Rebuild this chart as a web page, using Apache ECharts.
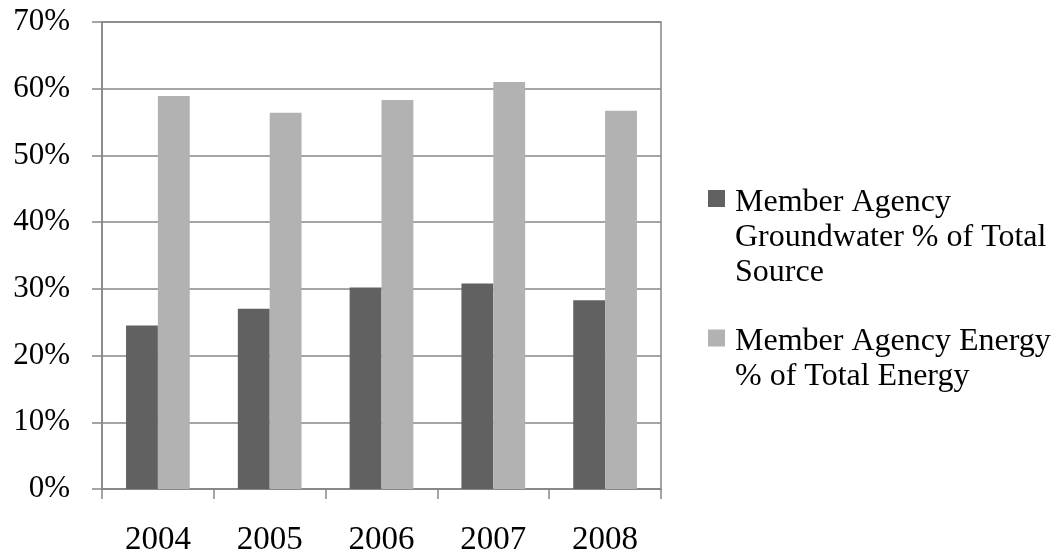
<!DOCTYPE html>
<html>
<head>
<meta charset="utf-8">
<title>Member Agency share</title>
<script src="https://cdn.jsdelivr.net/npm/echarts@6/dist/echarts.min.js"></script>
<style>
  html, body { margin: 0; padding: 0; background: #ffffff; }
  #chart { width: 1060px; height: 554px; }
</style>
</head>
<body>
<div id="chart"></div>
<script>
  // data (percent)
  var years = ['2004', '2005', '2006', '2007', '2008']
  var groundwater = [24.5, 27.0, 30.2, 30.8, 28.3]
  var energy = [58.9, 56.4, 58.3, 61.0, 56.7]
  var seriesNames = [
    'Member Agency Groundwater % of Total Source',
    'Member Agency Energy % of Total Energy'
  ]
  var legendLabels = [
    'Member Agency\nGroundwater % of Total\nSource',
    'Member Agency Energy\n% of Total Energy'
  ]
  var yTicks = [0, 10, 20, 30, 40, 50, 60, 70]

  var axisGray = '#878787'
  var font = 'Liberation Serif'

  // legend squares sit on the first text line (excel style), so the icon is a
  // 22x105 path box with a 17px square drawn at the first line's height
  var iconFirstOf3 = 'path://M0,0L22,0M0,5L17,5L17,22L0,22ZM0,105L22,105'
  var iconFirstOf2 = 'path://M0,0L22,0M0,22.5L17,22.5L17,39.5L0,39.5ZM0,105L22,105'

  var chart = echarts.init(document.getElementById('chart'))
  var option = {
    animation: false,
    backgroundColor: '#ffffff',
    grid: {
      left: 102,
      right: 399,
      top: 22,
      bottom: 65,
      outerBoundsMode: 'none',
      show: true,
      borderColor: axisGray,
      borderWidth: 1.5
    },
    legend: {
      orient: 'vertical',
      left: 708,
      top: 185,
      padding: 0,
      itemGap: 17,
      itemWidth: 22,
      itemHeight: 105,
      selectedMode: false,
      formatter: function (name) {
        return legendLabels[seriesNames.indexOf(name)]
      },
      textStyle: {
        fontFamily: font,
        fontSize: 32,
        lineHeight: 35,
        color: '#000000'
      },
      data: [
        { name: seriesNames[0], icon: iconFirstOf3 },
        { name: seriesNames[1], icon: iconFirstOf2 }
      ]
    },
    xAxis: {
      type: 'category',
      data: years,
      axisLine: { lineStyle: { color: axisGray, width: 1.5 } },
      axisTick: { show: true, length: 10, lineStyle: { color: axisGray, width: 1.5 } },
      axisLabel: { margin: 35, fontFamily: font, fontSize: 33, color: '#000000' }
    },
    yAxis: {
      type: 'value',
      min: yTicks[0],
      max: yTicks[yTicks.length - 1],
      interval: 10,
      axisLine: { show: true, lineStyle: { color: axisGray, width: 1.5 } },
      axisTick: { show: true, length: 10, lineStyle: { color: axisGray, width: 1.5 } },
      splitLine: { lineStyle: { color: axisGray, width: 1.5 } },
      axisLabel: {
        margin: 32,
        fontFamily: font,
        fontSize: 31,
        color: '#000000',
        formatter: '{value}%'
      }
    },
    series: [
      {
        name: seriesNames[0],
        type: 'bar',
        data: groundwater,
        barGap: 0,
        barCategoryGap: '43%',
        itemStyle: { color: '#616161' }
      },
      {
        name: seriesNames[1],
        type: 'bar',
        data: energy,
        barGap: 0,
        barCategoryGap: '43%',
        itemStyle: { color: '#b2b2b2' }
      }
    ]
  }
  chart.setOption(option)
</script>
</body>
</html>
